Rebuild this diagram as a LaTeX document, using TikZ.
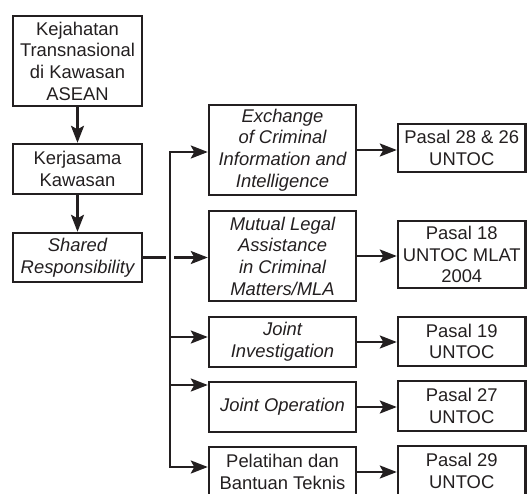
\documentclass[tikz,border=0pt]{standalone}
\usepackage{fontspec}
\setmainfont{Liberation Sans}
\usetikzlibrary{arrows.meta}
\definecolor{ink}{RGB}{35,31,32}
\begin{document}
\begin{tikzpicture}[x=1pt,y=-1pt,
  box/.style={draw=ink, line width=2.4pt, align=center, inner sep=0pt, text=ink,
    font=\fontsize{18.4}{21.7}\selectfont},
  lbox/.style={box, minimum width=129pt},
  mbox/.style={box, minimum width=147pt},
  rbox/.style={box, minimum width=127.5pt},
  ln/.style={draw=ink, line width=2.5pt},
  arr/.style={ln, -{Stealth[length=17pt,width=13pt,inset=3.5pt]}}]
\useasboundingbox (0,0) rectangle (527,493);
% left column
\node[lbox, minimum height=90pt] (k1) at (77.5,61) {Kejahatan\\Transnasional\\di Kawasan\\ASEAN};
\node[lbox, minimum height=50pt] (k2) at (77.5,169) {Kerjasama\\Kawasan};
\node[lbox, minimum height=49pt] (k3) at (77.5,257.5) {\itshape Shared\\\itshape Responsibility};
% middle column
\node[mbox, minimum height=90pt] (m1) at (282.5,150) {\itshape Exchange\\\itshape of Criminal\\\itshape Information and\\\itshape Intelligence};
\node[mbox, minimum height=90pt] (m2) at (282.5,256) {\itshape Mutual Legal\\\itshape Assistance\\\itshape in Criminal\\\itshape Matters/MLA};
\node[mbox, minimum height=50pt] (m3) at (282.5,342) {\itshape Joint\\\itshape Investigation};
\node[mbox, minimum height=50pt] (m4) at (282.5,407) {\itshape Joint Operation};
\node[mbox, minimum height=50pt] (m5) at (282.5,472) {Pelatihan dan\\Bantuan Teknis};
% right column
\node[rbox, minimum height=48pt] (r1) at (461.75,148) {Pasal 28 \& 26\\UNTOC};
\node[rbox, minimum height=67pt] (r2) at (461.75,254.5) {Pasal 18\\UNTOC MLAT\\2004};
\node[rbox, minimum height=49pt] (r3) at (461.75,341.5) {Pasal 19\\UNTOC};
\node[rbox, minimum height=50pt] (r4) at (461.75,406) {Pasal 27\\UNTOC};
\node[rbox, minimum height=50pt] (r5) at (461.75,471) {Pasal 29\\UNTOC};
% spine coordinates
\coordinate (sT) at (170,152);
\coordinate (s3) at (170,337);
\coordinate (s4) at (170,385);
\coordinate (sB) at (170,467);
\coordinate (gL) at (165.5,257);
\coordinate (gR) at (174,257);
% vertical arrows
\draw[arr] (k1.south) -- (k2.north);
\draw[arr] (k2.south) -- (k3.north);
% spine
\draw[arr] (sB) -- (sT) -- (sT -| m1.west);
\draw[arr] (s4) -- (sB) -- (sB -| m5.west);
\draw[arr] (s3) -- (s3 -| m3.west);
\draw[arr] (s4) -- (s4 -| m4.west);
% shared responsibility line with gap
\draw[ln] (k3.east) -- (gL |- k3.east);
\draw[arr] (gR |- k3.east) -- (m2.west |- k3.east);
% right arrows
\draw[arr] (m1.east) -- (m1.east -| r1.west);
\draw[arr] (m2.east) -- (m2.east -| r2.west);
\draw[arr] (m3.east) -- (m3.east -| r3.west);
\draw[arr] (m4.east) -- (m4.east -| r4.west);
\draw[arr] (m5.east) -- (m5.east -| r5.west);
\end{tikzpicture}
\end{document}
